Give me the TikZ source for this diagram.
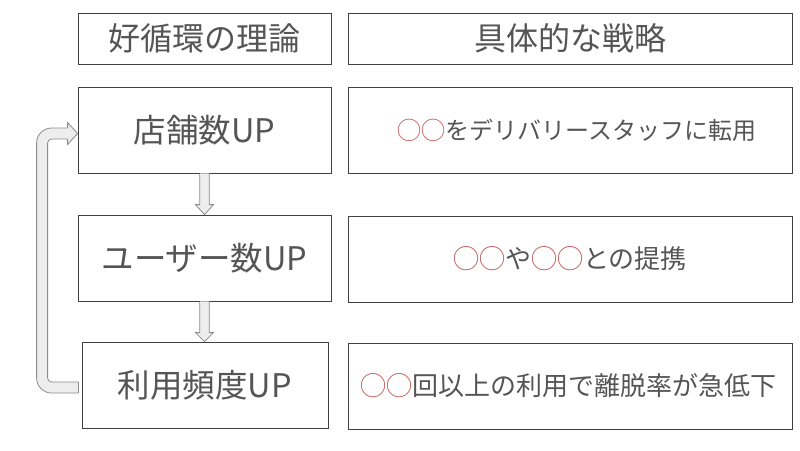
\documentclass[tikz,border=0pt]{standalone}
\usepackage{fontspec}
\setmainfont{Noto Sans CJK JP}
\usetikzlibrary{calc}
\definecolor{txt}{HTML}{555555}
\definecolor{frame}{HTML}{404040}
\definecolor{afill}{HTML}{EDEDED}
\definecolor{aline}{HTML}{8C8C8C}
\definecolor{redmark}{HTML}{C0504D}
\newcommand{\redcircles}{{\color{redmark}◯◯}}
\begin{document}
\begin{tikzpicture}[x=1pt,y=-1pt,
  box/.style={draw=frame, line width=0.8pt, rectangle, inner sep=0pt, text=txt, anchor=center},
  headbox/.style={box, minimum height=51pt, font=\fontsize{32}{32}\selectfont},
  leftbox/.style={box, minimum height=86pt, font=\fontsize{32.5}{32}\selectfont},
  rightbox/.style={box, minimum width=444pt, minimum height=86pt},
  afillst/.style={fill=afill},
  alinest/.style={draw=aline, line width=0.8pt, line join=miter}]
\useasboundingbox (0,0) rectangle (800,450);
\fill[white] (0,0) rectangle (800,450);
% header
\node[headbox, minimum width=253pt] (hl) at (204.5,38.5) {好循環の理論};
\node[headbox, minimum width=444pt] (hr) at (570,38.5) {具体的な戦略};
% left column
\node[leftbox, minimum width=253pt] (l1) at (204.5,130) {店舗数UP};
\node[leftbox, minimum width=253pt] (l2) at (204.5,258) {ユーザー数UP};
\node[leftbox, minimum width=246pt] (l3) at (205,385) {利用頻度UP};
% right column
\node[rightbox] (r1) at (570,130) {};
\node[rightbox] (r2) at (570,259) {};
\node[rightbox] (r3) at (570,386) {};
\node[text=txt, inner sep=0pt, font=\fontsize{24}{24}\selectfont] (t1) at (577,130) {\redcircles をデリバリースタッフに転用};
\node[text=txt, inner sep=0pt, font=\fontsize{26}{26}\selectfont] (t2) at (570,259) {\redcircles や\redcircles との提携};
\node[text=txt, inner sep=0pt, font=\fontsize{26}{26}\selectfont] (t3) at (568,386) {\redcircles 回以上の利用で離脱率が急低下};
% down arrow 1
\coordinate (a1tip) at (l1.south |- l2.north);
\fill[afillst] ($(l1.south)+(-4.75,0)$) -- ($(a1tip)+(-4.75,-10)$) -- ($(a1tip)+(-9,-10)$) -- (a1tip) -- ($(a1tip)+(9,-10)$) -- ($(a1tip)+(4.75,-10)$) -- ($(l1.south)+(4.75,0)$) -- cycle;
\draw[alinest] ($(l1.south)+(-4.75,0.5)$) -- ($(a1tip)+(-4.75,-10)$) -- ($(a1tip)+(-9,-10)$) -- (a1tip) -- ($(a1tip)+(9,-10)$) -- ($(a1tip)+(4.75,-10)$) -- ($(l1.south)+(4.75,0.5)$);
% down arrow 2
\coordinate (a2tip) at (l2.south |- l3.north);
\fill[afillst] ($(l2.south)+(-4.75,0)$) -- ($(a2tip)+(-4.75,-9)$) -- ($(a2tip)+(-9,-9)$) -- (a2tip) -- ($(a2tip)+(9,-9)$) -- ($(a2tip)+(4.75,-9)$) -- ($(l2.south)+(4.75,0)$) -- cycle;
\draw[alinest] ($(l2.south)+(-4.75,0.5)$) -- ($(a2tip)+(-4.75,-9)$) -- ($(a2tip)+(-9,-9)$) -- (a2tip) -- ($(a2tip)+(9,-9)$) -- ($(a2tip)+(4.75,-9)$) -- ($(l2.south)+(4.75,0.5)$);
% loop arrow from l3 back to l1
\coordinate (tail) at ($(l3.west)+(-3,2.5)$);
\coordinate (tip) at ($(l1.west)+(0,3.5)$);
\coordinate (bend) at ($(tail)+(-36.5,0)$);
\coordinate (corner) at (bend |- tip);
\draw[afill, line width=11pt, rounded corners=9.5pt] (tail) -- (bend) -- (corner) -- ($(tip)+(-10,0)$);
\draw[alinest, rounded corners=15pt] ($(tail)+(0,5.5)$) -- ($(bend)+(-5.5,5.5)$) -- ($(corner)+(-5.5,-5.5)$) -- ($(tip)+(-10,-5.5)$);
\draw[alinest, rounded corners=4pt] ($(tail)+(0,-5.5)$) -- ($(bend)+(5.5,-5.5)$) -- ($(corner)+(5.5,5.5)$) -- ($(tip)+(-10,5.5)$);
\draw[alinest] ($(tail)+(0,-5.5)$) -- ($(tail)+(0,5.5)$);
\fill[afillst] ($(tip)+(-10,5.5)$) -- ($(tip)+(-10,11)$) -- (tip) -- ($(tip)+(-10,-11)$) -- ($(tip)+(-10,-5.5)$) -- cycle;
\draw[alinest] ($(tip)+(-10,5.5)$) -- ($(tip)+(-10,11)$) -- (tip) -- ($(tip)+(-10,-11)$) -- ($(tip)+(-10,-5.5)$);
\end{tikzpicture}
\end{document}
